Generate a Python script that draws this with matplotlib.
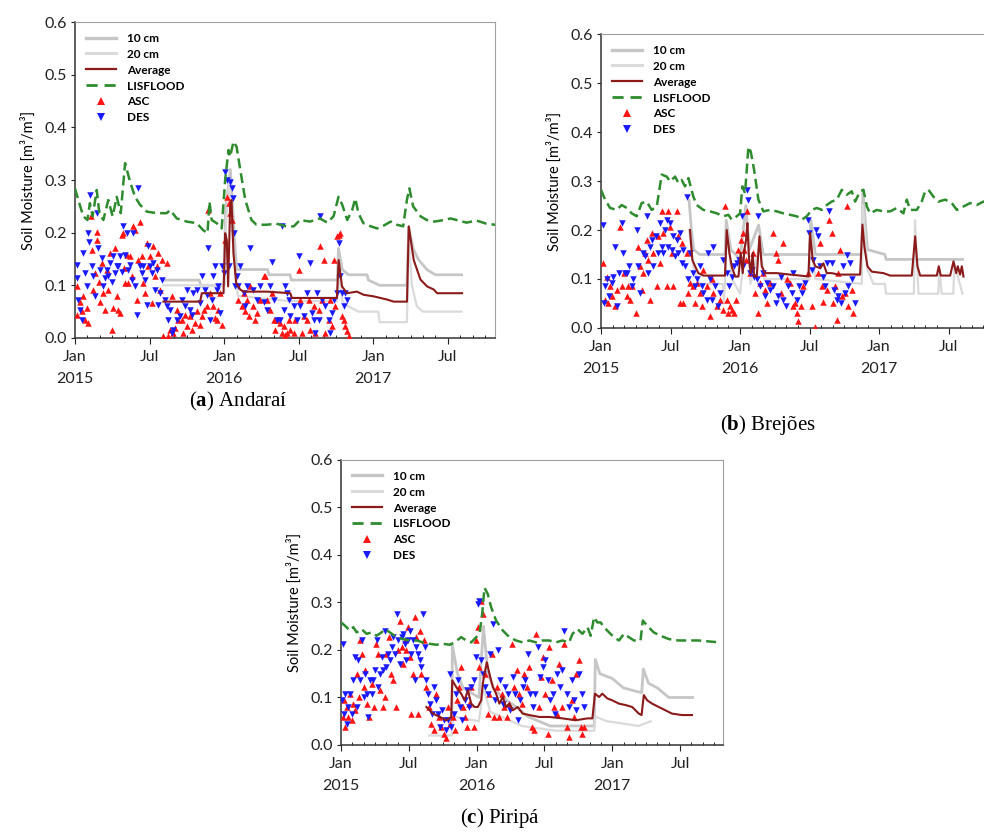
import matplotlib

matplotlib.use("Agg")
import matplotlib.pyplot as plt
from matplotlib.lines import Line2D
from matplotlib.ticker import FixedLocator, FormatStrFormatter, MultipleLocator

plt.rcParams["font.family"] = ["Lato", "DejaVu Sans"]
plt.rcParams["mathtext.fontset"] = "custom"
plt.rcParams["mathtext.rm"] = "Liberation Serif"
plt.rcParams["mathtext.bf"] = "Liberation Serif:bold"

# x values are months since 1 Jan 2015, y values are soil moisture in m3/m3
MONTH_TICKS = [0, 6, 12, 18, 24, 30]
MONTH_LABELS = ["Jan\n2015", "Jul", "Jan\n2016", "Jul", "Jan\n2017", "Jul"]
X_MAX = 33.8

# ---- Andaraí -------------------------------------------------------------
a_lis_t = [0, 0.27, 0.67, 1.0, 1.2, 1.42, 1.75, 1.96, 2.28, 2.68,
           3.03, 3.36, 3.68, 4.03, 4.43, 4.83, 5.23, 5.77, 6.58, 7.38,
           7.65, 8.19, 8.99, 9.8, 10.3, 10.66, 10.82, 11.0, 11.4, 11.8,
           12.08, 12.35, 12.48, 12.75, 13.0, 13.3, 13.7, 14.2, 14.6, 15.4,
           16.2, 17.0, 17.6, 18.1, 18.9, 19.7, 20.3, 20.8, 21.2, 21.5,
           21.9, 22.3, 22.55, 22.8, 23.2, 23.8, 24.3, 24.8, 25.4, 25.9,
           26.4, 26.7, 26.9, 27.2, 27.8, 28.3, 28.9, 29.7, 30.2, 30.7,
           31.5, 32.3, 33.1, 33.8]
a_lis_v = [0.284, 0.262, 0.231, 0.224, 0.256, 0.231, 0.281, 0.237, 0.224, 0.262,
           0.231, 0.268, 0.237, 0.332, 0.297, 0.268, 0.253, 0.240, 0.237, 0.237,
           0.243, 0.227, 0.221, 0.218, 0.205, 0.199, 0.259, 0.224, 0.218, 0.208,
           0.300, 0.357, 0.344, 0.373, 0.363, 0.319, 0.262, 0.224, 0.215, 0.215,
           0.217, 0.212, 0.212, 0.224, 0.221, 0.227, 0.219, 0.231, 0.268, 0.253,
           0.224, 0.243, 0.265, 0.237, 0.218, 0.212, 0.208, 0.213, 0.221, 0.215,
           0.212, 0.262, 0.284, 0.250, 0.231, 0.224, 0.221, 0.224, 0.227, 0.224,
           0.219, 0.223, 0.217, 0.215]
a_avg_t = [7.11, 10.07, 10.2, 11.95, 12.08, 12.21, 12.32, 12.48, 12.59, 12.75,
           12.97, 13.29, 13.56, 15.44, 17.32, 17.45, 21.07, 21.21, 21.48, 21.88,
           22.68, 23.22, 24.03, 25.1, 25.64, 26.71, 26.85, 27.25, 27.79, 28.32,
           28.86, 29.13, 31.14]
a_avg_v = [0.069, 0.069, 0.085, 0.085, 0.199, 0.186, 0.098, 0.250, 0.262, 0.161,
           0.104, 0.092, 0.088, 0.088, 0.085, 0.076, 0.076, 0.148, 0.098, 0.085,
           0.088, 0.082, 0.079, 0.073, 0.069, 0.069, 0.212, 0.148, 0.111, 0.098,
           0.092, 0.085, 0.085]
a_10_t = [7.1, 10.0, 10.1, 12.0, 12.1, 12.5, 12.8, 13.0, 15.5, 15.6, 17.3, 17.4, 21.1,
          21.2, 21.5, 22.0, 23.5, 23.6, 24.5, 26.7, 26.85, 27.2, 27.6, 28.3, 29.0, 31.1]
a_10_v = [0.11, 0.11, 0.10, 0.10, 0.24, 0.32, 0.20, 0.13, 0.13, 0.12, 0.12, 0.11, 0.11,
          0.17, 0.13, 0.12, 0.12, 0.11, 0.10, 0.10, 0.21, 0.17, 0.15, 0.13, 0.12, 0.12]
a_20_t = [7.1, 12.0, 12.1, 12.4, 12.8, 13.1, 17.3, 21.1, 21.2, 21.5,
          22.0, 22.8, 24.4, 24.5, 26.7, 26.85, 27.1, 27.5, 28.0, 31.1]
a_20_v = [0.10, 0.10, 0.20, 0.30, 0.15, 0.08, 0.07, 0.07, 0.13, 0.07,
          0.06, 0.05, 0.05, 0.03, 0.03, 0.19, 0.10, 0.06, 0.05, 0.05]
a_asc_t = [0.13, 0.19, 0.40, 0.54, 0.67, 0.81, 0.94, 1.07, 1.26, 1.34,
           1.48, 1.61, 1.74, 1.80, 1.96, 2.01, 2.15, 2.28, 2.42, 2.55,
           2.68, 2.82, 2.95, 3.09, 3.22, 3.36, 3.49, 3.62, 3.76, 3.89,
           3.95, 4.03, 4.16, 4.30, 4.43, 4.56, 4.70, 4.83, 4.97, 5.10,
           5.23, 5.37, 5.50, 5.64, 5.77, 5.91, 6.04, 6.17, 6.31, 6.44,
           6.58, 6.71, 6.85, 6.98, 7.11, 7.38, 7.52, 7.65, 7.79, 7.92,
           8.05, 8.19, 8.32, 8.59, 8.72, 8.86, 8.99, 9.26, 9.40, 9.66,
           9.80, 10.07, 10.20, 10.39, 10.60, 10.74, 10.87, 11.14, 11.28, 11.41,
           11.54, 11.68, 11.81, 12.08, 12.21, 12.35, 12.48, 12.62, 13.15, 13.42,
           13.56, 13.69, 13.83, 13.96, 14.09, 14.36, 14.50, 14.63, 14.90, 15.17,
           15.30, 15.44, 15.70, 15.84, 15.97, 16.11, 16.24, 16.51, 16.64, 16.78,
           16.91, 17.05, 17.18, 17.32, 17.58, 17.72, 17.99, 18.12, 18.26, 18.39,
           18.66, 18.79, 18.93, 19.19, 19.33, 19.60, 19.73, 19.87, 20.00, 20.13,
           20.40, 20.54, 20.67, 20.81, 20.94, 21.07, 21.21, 21.34, 21.48, 21.61,
           21.74, 21.88, 22.01]
a_asc_v = [0.098, 0.044, 0.069, 0.051, 0.079, 0.035, 0.057, 0.028, 0.231, 0.167,
           0.092, 0.123, 0.202, 0.186, 0.107, 0.069, 0.142, 0.085, 0.054, 0.130,
           0.092, 0.161, 0.016, 0.057, 0.171, 0.079, 0.054, 0.047, 0.196, 0.199,
           0.133, 0.104, 0.158, 0.104, 0.155, 0.117, 0.212, 0.205, 0.073, 0.148,
           0.221, 0.155, 0.104, 0.085, 0.180, 0.136, 0.155, 0.066, 0.174, 0.117,
           0.136, 0.161, 0.092, 0.148, 0.003, 0.142, 0.003, 0.016, 0.079, 0.009,
           0.019, 0.054, 0.035, 0.035, 0.009, 0.044, 0.022, 0.041, 0.016, 0.028,
           0.051, 0.025, 0.041, 0.054, 0.060, 0.243, 0.085, 0.060, 0.038, 0.035,
           0.054, 0.085, 0.025, 0.186, 0.268, 0.256, 0.237, 0.224, 0.073, 0.060,
           0.085, 0.051, 0.073, 0.041, 0.098, 0.060, 0.035, 0.047, 0.073, 0.117,
           0.117, 0.073, 0.054, 0.085, 0.035, 0.016, 0.035, 0.028, 0.009, 0.022,
           0.006, 0.009, 0.035, 0.016, 0.009, 0.035, 0.130, 0.073, 0.009, 0.041,
           0.035, 0.073, 0.016, 0.060, 0.009, 0.054, 0.174, 0.073, 0.148, 0.009,
           0.035, 0.073, 0.022, 0.148, 0.060, 0.193, 0.196, 0.199, 0.041, 0.035,
           0.022, 0.013, 0.003]
a_des_t = [0.13, 0.19, 0.27, 0.40, 0.54, 0.67, 0.81, 0.94, 1.07, 1.15,
           1.21, 1.34, 1.48, 1.61, 1.74, 1.88, 2.01, 2.15, 2.28, 2.42,
           2.55, 2.68, 2.82, 2.95, 3.09, 3.22, 3.36, 3.49, 3.62, 3.76,
           3.89, 4.03, 4.16, 4.30, 4.43, 4.56, 4.70, 4.83, 4.97, 5.10,
           5.23, 5.37, 5.50, 5.64, 5.77, 5.91, 6.04, 6.17, 6.31, 6.44,
           6.58, 6.71, 6.85, 6.98, 7.25, 7.38, 7.52, 7.65, 7.79, 7.92,
           8.19, 8.46, 8.59, 8.86, 8.99, 9.26, 9.40, 9.53, 9.80, 10.07,
           10.20, 10.47, 10.60, 10.74, 10.87, 11.01, 11.14, 11.28, 11.41, 11.54,
           11.68, 11.81, 11.95, 12.08, 12.21, 12.35, 12.48, 12.62, 12.70, 12.81,
           12.89, 13.02, 13.15, 13.29, 13.56, 13.69, 13.83, 14.09, 14.36, 14.63,
           14.90, 15.17, 15.44, 15.70, 15.84, 15.97, 16.24, 16.51, 16.64, 16.78,
           16.91, 17.05, 17.18, 17.32, 17.58, 17.85, 17.99, 18.12, 18.39, 18.66,
           18.93, 19.06, 19.19, 19.33, 19.46, 19.60, 19.73, 19.87, 20.13, 20.40,
           20.54, 20.67, 20.81, 21.07, 21.21, 21.34, 21.48, 21.61, 21.74, 21.88]
a_des_v = [0.139, 0.114, 0.073, 0.054, 0.035, 0.161, 0.123, 0.098, 0.199, 0.183,
           0.272, 0.136, 0.117, 0.079, 0.237, 0.171, 0.130, 0.152, 0.098, 0.114,
           0.130, 0.117, 0.142, 0.107, 0.155, 0.123, 0.136, 0.136, 0.155, 0.126,
           0.212, 0.158, 0.199, 0.130, 0.139, 0.111, 0.199, 0.098, 0.044, 0.284,
           0.136, 0.123, 0.136, 0.111, 0.063, 0.174, 0.136, 0.123, 0.142, 0.092,
           0.130, 0.063, 0.085, 0.111, 0.073, 0.060, 0.035, 0.054, 0.009, 0.016,
           0.035, 0.041, 0.073, 0.060, 0.092, 0.054, 0.044, 0.085, 0.092, 0.066,
           0.117, 0.092, 0.082, 0.171, 0.035, 0.073, 0.117, 0.136, 0.092, 0.098,
           0.047, 0.136, 0.123, 0.316, 0.300, 0.136, 0.297, 0.284, 0.265, 0.199,
           0.098, 0.117, 0.098, 0.136, 0.085, 0.060, 0.098, 0.171, 0.092, 0.073,
           0.098, 0.069, 0.054, 0.098, 0.145, 0.073, 0.035, 0.035, 0.212, 0.054,
           0.098, 0.085, 0.073, 0.041, 0.060, 0.035, 0.155, 0.060, 0.041, 0.085,
           0.142, 0.047, 0.035, 0.009, 0.085, 0.035, 0.231, 0.073, 0.060, 0.035,
           0.009, 0.047, 0.073, 0.085, 0.180, 0.117, 0.085, 0.060, 0.085, 0.073]

# ---- Brejões -------------------------------------------------------------
b_lis_t = [0, 0.35, 0.78, 1.35, 1.78, 2.22, 2.65, 3.08, 3.51, 3.94,
           4.37, 4.81, 5.24, 5.67, 5.96, 6.39, 6.68, 6.96, 7.25, 7.54,
           7.97, 8.26, 8.83, 9.41, 9.99, 10.56, 10.99, 11.28, 11.71, 12.0,
           12.2, 12.43, 12.72, 12.92, 13.21, 13.58, 14.01, 14.59, 15.17, 15.74,
           16.32, 16.89, 17.32, 17.76, 18.19, 18.62, 19.05, 19.48, 19.91, 20.35,
           20.78, 21.21, 21.64, 21.93, 22.36, 22.65, 22.94, 23.22, 23.8, 24.37,
           24.95, 25.53, 26.1, 26.39, 26.68, 27.25, 27.68, 27.97, 28.26, 28.69,
           29.12, 29.7, 30.27, 30.71, 31.28, 31.86, 32.43, 33.0, 33.8]
b_lis_v = [0.282, 0.262, 0.245, 0.241, 0.251, 0.245, 0.234, 0.228, 0.255, 0.258,
           0.241, 0.248, 0.313, 0.309, 0.299, 0.309, 0.296, 0.302, 0.289, 0.306,
           0.268, 0.251, 0.241, 0.238, 0.234, 0.228, 0.231, 0.221, 0.228, 0.234,
           0.289, 0.275, 0.370, 0.360, 0.323, 0.262, 0.238, 0.241, 0.238, 0.234,
           0.231, 0.228, 0.221, 0.228, 0.241, 0.245, 0.241, 0.251, 0.258, 0.262,
           0.282, 0.272, 0.279, 0.258, 0.279, 0.282, 0.248, 0.234, 0.241, 0.238,
           0.238, 0.245, 0.234, 0.262, 0.241, 0.241, 0.258, 0.279, 0.282, 0.268,
           0.258, 0.262, 0.255, 0.241, 0.248, 0.255, 0.251, 0.258, 0.250]
b_avg_t = [7.68, 7.88, 8.12, 8.4, 8.83, 10.7, 10.85, 11.08, 11.28, 11.57,
           11.86, 12.06, 12.23, 12.37, 12.52, 12.63, 12.78, 12.92, 13.09, 13.21,
           13.44, 13.67, 13.87, 14.16, 15.17, 16.32, 17.18, 17.9, 18.04, 18.27,
           18.5, 18.91, 19.19, 19.48, 19.91, 20.49, 21.35, 22.36, 22.56, 22.73,
           22.99, 23.37, 24.37, 24.95, 26.82, 27.11, 27.31, 27.54, 28.98, 29.15,
           29.32, 30.13, 30.42, 30.65, 30.79, 30.99, 31.14, 31.28]
b_avg_v = [0.200, 0.139, 0.126, 0.112, 0.107, 0.107, 0.200, 0.153, 0.126, 0.105,
           0.105, 0.153, 0.112, 0.160, 0.180, 0.214, 0.139, 0.112, 0.153, 0.105,
           0.105, 0.187, 0.126, 0.112, 0.112, 0.109, 0.107, 0.105, 0.194, 0.139,
           0.126, 0.122, 0.132, 0.112, 0.112, 0.109, 0.109, 0.109, 0.211, 0.166,
           0.126, 0.115, 0.112, 0.107, 0.107, 0.187, 0.126, 0.107, 0.107, 0.126,
           0.107, 0.107, 0.136, 0.112, 0.126, 0.109, 0.126, 0.105]
b_10_t = [7.6, 7.8, 8.0, 8.5, 10.7, 10.8, 11.2, 12.0, 12.5, 12.8, 13.6,
          14.0, 18.0, 18.1, 18.5, 22.5, 22.6, 23.0, 24.5, 24.6, 31.2]
b_10_v = [0.26, 0.20, 0.16, 0.15, 0.15, 0.22, 0.16, 0.14, 0.25, 0.16, 0.21,
          0.15, 0.15, 0.22, 0.15, 0.15, 0.28, 0.16, 0.15, 0.14, 0.14]
b_20_t = [7.6, 8.0, 8.5, 10.5, 10.6, 10.9, 11.3, 12.0, 12.6, 12.9,
          13.7, 14.1, 18.0, 18.1, 18.5, 22.5, 22.6, 23.0, 23.5, 24.5,
          24.6, 27.0, 27.1, 27.4, 29.1, 29.2, 29.4, 30.4, 30.5, 31.2]
b_20_v = [0.20, 0.12, 0.09, 0.09, 0.05, 0.20, 0.10, 0.07, 0.20, 0.09,
          0.17, 0.10, 0.10, 0.18, 0.10, 0.09, 0.25, 0.12, 0.09, 0.09,
          0.07, 0.07, 0.22, 0.07, 0.07, 0.12, 0.07, 0.07, 0.13, 0.07]
b_asc_t = [0.2, 0.35, 0.49, 0.63, 0.78, 0.92, 1.21, 1.35, 1.64, 1.78,
           1.96, 2.22, 2.36, 2.5, 2.65, 3.02, 3.22, 3.37, 3.51, 3.65,
           3.8, 3.94, 4.09, 4.23, 4.37, 4.52, 4.81, 4.95, 5.09, 5.24,
           5.38, 5.67, 5.81, 5.96, 6.1, 6.24, 6.53, 6.68, 6.82, 6.96,
           7.11, 7.4, 7.54, 7.68, 7.97, 8.12, 8.26, 8.55, 8.69, 8.83,
           9.12, 9.41, 9.55, 9.7, 9.99, 10.27, 10.56, 10.7, 10.85, 10.99,
           11.14, 11.28, 11.48, 11.65, 11.86, 12.06, 12.23, 12.37, 12.52, 12.63,
           12.86, 13.09, 13.29, 13.58, 13.73, 14.01, 14.16, 14.36, 14.59, 14.88,
           15.11, 15.31, 15.51, 15.74, 16.03, 16.32, 16.6, 16.75, 16.89, 17.04,
           17.24, 17.47, 17.9, 18.19, 18.47, 18.76, 18.91, 19.05, 19.19, 19.48,
           19.71, 19.91, 20.06, 20.2, 20.35, 20.49, 20.63, 20.78, 21.06, 21.21,
           21.35, 21.64, 21.78]
b_asc_v = [0.132, 0.058, 0.105, 0.051, 0.085, 0.065, 0.044, 0.078, 0.207, 0.085,
           0.112, 0.065, 0.085, 0.058, 0.085, 0.031, 0.166, 0.126, 0.078, 0.112,
           0.153, 0.180, 0.139, 0.058, 0.194, 0.153, 0.085, 0.187, 0.132, 0.238,
           0.194, 0.085, 0.238, 0.207, 0.153, 0.085, 0.238, 0.187, 0.051, 0.173,
           0.051, 0.153, 0.071, 0.092, 0.085, 0.051, 0.092, 0.071, 0.044, 0.119,
           0.085, 0.024, 0.099, 0.071, 0.044, 0.058, 0.037, 0.248, 0.058, 0.031,
           0.044, 0.037, 0.031, 0.058, 0.160, 0.180, 0.194, 0.160, 0.139, 0.238,
           0.112, 0.153, 0.071, 0.031, 0.092, 0.112, 0.078, 0.051, 0.092, 0.194,
           0.153, 0.139, 0.071, 0.173, 0.099, 0.092, 0.044, 0.051, 0.031, 0.014,
           0.044, 0.085, 0.112, 0.044, 0.003, 0.112, 0.173, 0.085, 0.054, 0.078,
           0.221, 0.194, 0.051, 0.085, 0.017, 0.112, 0.160, 0.065, 0.071, 0.248,
           0.044, 0.078, 0.031]
b_des_t = [0.14, 0.26, 0.37, 0.55, 0.72, 0.92, 1.06, 1.21, 1.41, 1.58,
           1.78, 1.93, 2.07, 2.22, 2.45, 2.65, 2.79, 3.08, 3.22, 3.37,
           3.65, 3.8, 3.94, 4.09, 4.23, 4.37, 4.52, 4.75, 4.95, 5.09,
           5.24, 5.38, 5.52, 5.67, 5.81, 5.96, 6.1, 6.24, 6.39, 6.53,
           6.68, 6.82, 6.96, 7.11, 7.25, 7.4, 7.54, 7.68, 7.97, 8.12,
           8.26, 8.55, 8.69, 8.83, 9.12, 9.27, 9.41, 9.55, 9.7, 9.84,
           10.13, 10.27, 10.56, 10.85, 11.08, 11.28, 11.48, 11.71, 11.94, 12.14,
           12.29, 12.58, 12.72, 12.86, 13.01, 13.21, 13.44, 13.58, 13.73, 13.96,
           14.16, 14.36, 14.59, 14.88, 15.11, 15.31, 15.51, 15.74, 15.97, 16.17,
           16.46, 16.6, 16.89, 17.12, 17.32, 17.61, 17.84, 17.99, 18.19, 18.33,
           18.56, 18.76, 18.91, 19.14, 19.34, 19.54, 19.71, 19.91, 20.12, 20.35,
           20.49, 20.69, 20.86, 21.06, 21.21, 21.35, 21.5, 21.64, 21.93]
b_des_v = [0.211, 0.051, 0.085, 0.099, 0.065, 0.092, 0.105, 0.166, 0.044, 0.112,
           0.214, 0.153, 0.112, 0.112, 0.126, 0.085, 0.099, 0.200, 0.126, 0.071,
           0.153, 0.146, 0.228, 0.112, 0.166, 0.180, 0.126, 0.187, 0.153, 0.214,
           0.166, 0.153, 0.200, 0.221, 0.166, 0.214, 0.160, 0.187, 0.146, 0.180,
           0.153, 0.194, 0.132, 0.160, 0.126, 0.268, 0.099, 0.153, 0.112, 0.085,
           0.099, 0.126, 0.085, 0.071, 0.058, 0.153, 0.099, 0.058, 0.166, 0.085,
           0.044, 0.071, 0.139, 0.112, 0.085, 0.105, 0.126, 0.132, 0.139, 0.228,
           0.126, 0.282, 0.262, 0.112, 0.119, 0.105, 0.099, 0.228, 0.085, 0.112,
           0.065, 0.092, 0.078, 0.085, 0.051, 0.065, 0.105, 0.058, 0.044, 0.085,
           0.071, 0.112, 0.058, 0.085, 0.071, 0.092, 0.221, 0.194, 0.119, 0.139,
           0.200, 0.187, 0.126, 0.105, 0.085, 0.132, 0.238, 0.132, 0.078, 0.058,
           0.065, 0.051, 0.126, 0.071, 0.149, 0.085, 0.132, 0.099, 0.051]

# ---- Piripá --------------------------------------------------------------
c_lis_t = [0, 0.35, 0.79, 1.09, 1.38, 1.82, 2.26, 2.7, 3.14, 3.58,
           3.88, 4.32, 4.91, 5.49, 6.08, 6.67, 7.26, 7.84, 8.43, 9.02,
           9.61, 10.05, 10.63, 11.08, 11.52, 11.96, 12.25, 12.49, 12.69, 12.98,
           13.28, 13.72, 14.31, 14.89, 15.48, 16.07, 16.66, 17.24, 17.83, 18.42,
           19.01, 19.59, 20.18, 20.48, 20.92, 21.36, 21.8, 22.09, 22.39, 22.68,
           22.97, 23.27, 23.71, 24.15, 24.59, 25.03, 25.47, 25.91, 26.5, 26.7,
           27.09, 27.67, 28.26, 29.0, 29.88, 30.76, 31.64, 32.52, 33.55]
c_lis_v = [0.258, 0.251, 0.241, 0.248, 0.237, 0.244, 0.234, 0.237, 0.230, 0.237,
           0.244, 0.237, 0.227, 0.223, 0.220, 0.220, 0.216, 0.213, 0.211, 0.213,
           0.211, 0.216, 0.227, 0.220, 0.216, 0.227, 0.234, 0.276, 0.331, 0.318,
           0.290, 0.262, 0.241, 0.227, 0.220, 0.216, 0.220, 0.216, 0.220, 0.220,
           0.216, 0.220, 0.216, 0.234, 0.244, 0.234, 0.248, 0.230, 0.269, 0.258,
           0.258, 0.248, 0.237, 0.227, 0.220, 0.234, 0.227, 0.220, 0.220, 0.262,
           0.251, 0.237, 0.230, 0.223, 0.220, 0.220, 0.220, 0.218, 0.216]
c_avg_t = [7.55, 8.14, 8.73, 9.31, 9.75, 9.84, 10.19, 10.63, 10.93, 11.22,
           11.52, 11.81, 12.1, 12.4, 12.54, 12.69, 12.9, 13.13, 13.43, 13.72,
           14.01, 14.31, 14.6, 14.89, 15.19, 15.63, 16.07, 16.66, 17.54, 18.42,
           19.59, 20.77, 21.8, 22.24, 22.47, 22.83, 23.12, 23.56, 24.0, 24.59,
           25.18, 25.76, 26.35, 26.59, 26.79, 27.09, 27.53, 28.11, 28.7, 29.29,
           30.17, 31.05]
c_avg_v = [0.080, 0.066, 0.059, 0.052, 0.059, 0.136, 0.122, 0.108, 0.094, 0.115,
           0.087, 0.080, 0.080, 0.094, 0.129, 0.150, 0.174, 0.150, 0.122, 0.108,
           0.087, 0.101, 0.080, 0.087, 0.073, 0.080, 0.066, 0.063, 0.059, 0.059,
           0.056, 0.052, 0.056, 0.056, 0.108, 0.101, 0.108, 0.098, 0.094, 0.087,
           0.084, 0.080, 0.066, 0.063, 0.105, 0.094, 0.087, 0.080, 0.073, 0.066,
           0.063, 0.063]
c_10_t = [9.8, 9.85, 10.3, 10.8, 11.5, 12.2, 12.6, 13.0, 13.5, 14.3, 15.5, 16.5,
          18.5, 22.4, 22.5, 22.9, 24.0, 25.0, 26.6, 26.75, 27.2, 28.0, 29.0, 31.1]
c_10_v = [0.04, 0.21, 0.15, 0.12, 0.11, 0.10, 0.25, 0.15, 0.12, 0.10, 0.08, 0.06,
          0.04, 0.04, 0.18, 0.15, 0.14, 0.12, 0.11, 0.16, 0.13, 0.12, 0.10, 0.10]
c_20_t = [7.8, 9.8, 9.9, 12.2, 12.6, 13.2, 16.0, 19.0, 22.4, 22.5, 23.5, 25.0, 26.3, 27.4]
c_20_v = [0.02, 0.02, 0.06, 0.05, 0.12, 0.07, 0.04, 0.03, 0.03, 0.06, 0.05, 0.045, 0.04, 0.05]
c_asc_t = [0.15, 0.26, 0.38, 0.5, 0.65, 0.79, 0.94, 1.09, 1.26, 1.44,
           1.56, 1.67, 1.82, 2.0, 2.12, 2.26, 2.5, 2.7, 2.91, 3.08,
           3.29, 3.44, 3.67, 3.88, 4.02, 4.2, 4.38, 4.61, 4.85, 5.02,
           5.2, 5.35, 5.49, 5.64, 5.79, 5.93, 6.08, 6.23, 6.37, 6.52,
           6.67, 6.82, 6.96, 7.11, 7.31, 7.55, 7.79, 7.99, 8.2, 8.43,
           8.67, 8.87, 9.08, 9.31, 9.49, 9.67, 9.9, 10.08, 10.25, 10.43,
           10.63, 10.78, 10.96, 11.13, 11.31, 11.52, 11.72, 11.9, 12.1, 12.25,
           12.4, 12.54, 12.78, 12.98, 13.13, 13.37, 13.57, 13.78, 14.01, 14.25,
           14.45, 14.66, 14.89, 15.13, 15.34, 15.54, 15.78, 16.01, 16.22, 16.42,
           16.66, 16.89, 17.1, 17.24, 17.48, 17.69, 17.89, 18.07, 18.27, 18.42,
           18.65, 18.86, 19.07, 19.3, 19.54, 19.74, 19.95, 20.18, 20.42, 20.62,
           20.83, 21.06, 21.21, 21.36, 21.5]
c_asc_v = [0.059, 0.094, 0.038, 0.080, 0.059, 0.108, 0.052, 0.087, 0.073, 0.150,
           0.101, 0.220, 0.192, 0.122, 0.157, 0.087, 0.059, 0.129, 0.080, 0.213,
           0.192, 0.115, 0.080, 0.101, 0.192, 0.227, 0.150, 0.136, 0.080, 0.199,
           0.262, 0.206, 0.171, 0.220, 0.199, 0.248, 0.185, 0.066, 0.150, 0.269,
           0.227, 0.066, 0.241, 0.150, 0.220, 0.122, 0.080, 0.045, 0.031, 0.108,
           0.059, 0.038, 0.024, 0.014, 0.080, 0.045, 0.059, 0.031, 0.094, 0.122,
           0.164, 0.080, 0.059, 0.038, 0.087, 0.122, 0.038, 0.220, 0.248, 0.164,
           0.304, 0.276, 0.150, 0.066, 0.108, 0.192, 0.059, 0.122, 0.059, 0.108,
           0.080, 0.059, 0.087, 0.213, 0.122, 0.157, 0.108, 0.087, 0.150, 0.122,
           0.164, 0.038, 0.031, 0.234, 0.080, 0.143, 0.185, 0.108, 0.024, 0.206,
           0.136, 0.080, 0.066, 0.171, 0.080, 0.213, 0.038, 0.017, 0.094, 0.059,
           0.150, 0.178, 0.038, 0.024, 0.038]
c_des_t = [0.06, 0.15, 0.26, 0.38, 0.5, 0.65, 0.79, 0.94, 1.09, 1.23,
           1.38, 1.53, 1.67, 1.82, 2.0, 2.12, 2.26, 2.41, 2.56, 2.7,
           2.85, 3.0, 3.14, 3.29, 3.44, 3.58, 3.73, 3.88, 4.02, 4.17,
           4.32, 4.47, 4.61, 4.76, 4.91, 5.05, 5.2, 5.35, 5.49, 5.64,
           5.79, 5.93, 6.08, 6.23, 6.37, 6.52, 6.67, 6.82, 6.96, 7.11,
           7.26, 7.4, 7.55, 7.7, 7.84, 8.05, 8.23, 8.37, 8.58, 8.73,
           8.9, 9.08, 9.25, 9.46, 9.61, 9.75, 9.96, 10.13, 10.34, 10.49,
           10.72, 10.93, 11.13, 11.31, 11.52, 11.72, 11.9, 12.1, 12.25, 12.4,
           12.54, 12.78, 12.98, 13.19, 13.43, 13.66, 13.87, 14.07, 14.31, 14.54,
           14.75, 14.95, 15.19, 15.42, 15.63, 15.83, 16.07, 16.3, 16.51, 16.72,
           16.95, 17.19, 17.39, 17.6, 17.83, 18.07, 18.27, 18.48, 18.71, 18.95,
           19.15, 19.36, 19.59, 19.74, 19.95, 20.18, 20.42, 20.62, 20.83, 21.06,
           21.3, 21.5]
c_des_v = [0.094, 0.213, 0.066, 0.108, 0.045, 0.080, 0.108, 0.066, 0.136, 0.185,
           0.080, 0.178, 0.136, 0.220, 0.101, 0.150, 0.108, 0.059, 0.136, 0.108,
           0.136, 0.157, 0.220, 0.122, 0.150, 0.185, 0.157, 0.241, 0.164, 0.192,
           0.178, 0.206, 0.227, 0.192, 0.276, 0.220, 0.171, 0.227, 0.234, 0.213,
           0.178, 0.220, 0.241, 0.192, 0.220, 0.136, 0.206, 0.192, 0.178, 0.164,
           0.276, 0.206, 0.136, 0.108, 0.087, 0.066, 0.122, 0.094, 0.066, 0.038,
           0.073, 0.052, 0.031, 0.052, 0.150, 0.038, 0.066, 0.108, 0.136, 0.080,
           0.052, 0.094, 0.115, 0.080, 0.122, 0.136, 0.185, 0.297, 0.304, 0.178,
           0.150, 0.122, 0.108, 0.192, 0.255, 0.094, 0.199, 0.136, 0.087, 0.122,
           0.108, 0.073, 0.143, 0.108, 0.052, 0.094, 0.122, 0.136, 0.192, 0.108,
           0.080, 0.108, 0.206, 0.143, 0.164, 0.178, 0.136, 0.094, 0.108, 0.066,
           0.150, 0.122, 0.157, 0.241, 0.108, 0.080, 0.136, 0.094, 0.073, 0.150,
           0.108, 0.080]

GRAY_10 = "#c6c6c6"
GRAY_20 = "#dadada"
AVG_COLOR = "#8b1a1a"
LIS_COLOR = "#2e8b2e"
ASC_COLOR = "#ff1414"
DES_COLOR = "#1a1aff"


def draw_panel(ax, d):
    ax.plot(d["g10"][0], d["g10"][1], color=GRAY_10, lw=2.0, zorder=1)
    ax.plot(d["g20"][0], d["g20"][1], color=GRAY_20, lw=1.6, zorder=1)
    ax.scatter(d["asc"][0], d["asc"][1], marker="^", s=22, color=ASC_COLOR,
               linewidths=0, zorder=3)
    ax.scatter(d["des"][0], d["des"][1], marker="v", s=22, color=DES_COLOR,
               linewidths=0, zorder=3)
    ax.plot(d["avg"][0], d["avg"][1], color=AVG_COLOR, lw=1.5, zorder=4)
    ax.plot(d["lis"][0], d["lis"][1], color=LIS_COLOR, lw=1.8,
            dashes=(4, 2), zorder=4)

    ax.set_xlim(0, X_MAX)
    ax.set_ylim(0, 0.6)
    ax.xaxis.set_major_locator(FixedLocator(MONTH_TICKS))
    ax.set_xticklabels(MONTH_LABELS, multialignment="center", linespacing=1.65)
    ax.xaxis.set_minor_locator(MultipleLocator(1))
    ax.yaxis.set_major_locator(MultipleLocator(0.1))
    ax.yaxis.set_major_formatter(FormatStrFormatter("%.1f"))
    ax.tick_params(axis="both", labelsize=11.5, colors="#222222")
    ax.tick_params(axis="x", which="major", direction="out", length=4, pad=5)
    ax.tick_params(axis="x", which="minor", direction="in", length=2.5)
    ax.tick_params(axis="y", length=3, pad=3)
    ax.set_ylabel("Soil Moisture [m³/m³]", fontsize=10.5, labelpad=6)

    for side in ("top", "right"):
        ax.spines[side].set_color("#a0a0a0")
        ax.spines[side].set_linewidth(0.8)
    for side in ("left", "bottom"):
        ax.spines[side].set_color("#333333")
        ax.spines[side].set_linewidth(1.1)

    handles = [
        Line2D([], [], color=GRAY_10, lw=2.4),
        Line2D([], [], color=GRAY_20, lw=2.2),
        Line2D([], [], color=AVG_COLOR, lw=1.6),
        Line2D([], [], color=LIS_COLOR, lw=2.0, dashes=(4, 2.5)),
        Line2D([], [], color=ASC_COLOR, marker="^", ls="none", ms=6, mew=0),
        Line2D([], [], color=DES_COLOR, marker="v", ls="none", ms=6, mew=0),
    ]
    labels = ["10 cm", "20 cm", "Average", "LISFLOOD", "ASC", "DES"]
    ax.legend(handles, labels, loc="upper left", frameon=False,
              prop={"weight": "bold", "size": 8.5}, handlelength=2.6,
              handletextpad=0.9, labelspacing=0.42, borderaxespad=0.5)


panels = {
    "a": dict(lis=(a_lis_t, a_lis_v), avg=(a_avg_t, a_avg_v),
              g10=(a_10_t, a_10_v), g20=(a_20_t, a_20_v),
              asc=(a_asc_t, a_asc_v), des=(a_des_t, a_des_v)),
    "b": dict(lis=(b_lis_t, b_lis_v), avg=(b_avg_t, b_avg_v),
              g10=(b_10_t, b_10_v), g20=(b_20_t, b_20_v),
              asc=(b_asc_t, b_asc_v), des=(b_des_t, b_des_v)),
    "c": dict(lis=(c_lis_t, c_lis_v), avg=(c_avg_t, c_avg_v),
              g10=(c_10_t, c_10_v), g20=(c_20_t, c_20_v),
              asc=(c_asc_t, c_asc_v), des=(c_des_t, c_des_v)),
}

fig = plt.figure(figsize=(9.84, 8.38), dpi=100)
ax_a = fig.add_axes([0.0762, 0.5967, 0.427, 0.377])
ax_b = fig.add_axes([0.6108, 0.6086, 0.398, 0.3508])
ax_c = fig.add_axes([0.3466, 0.1110, 0.3882, 0.3401])

draw_panel(ax_a, panels["a"])
draw_panel(ax_b, panels["b"])
draw_panel(ax_c, panels["c"])

cap = dict(ha="center", va="center", fontsize=15, family="Liberation Serif")
fig.text(0.242, 0.521, r"($\mathbf{a}$) Andaraí", **cap)
fig.text(0.780, 0.493, r"($\mathbf{b}$) Brejões", **cap)
fig.text(0.508, 0.024, r"($\mathbf{c}$) Piripá", **cap)

fig.savefig("out.png", dpi=100)
